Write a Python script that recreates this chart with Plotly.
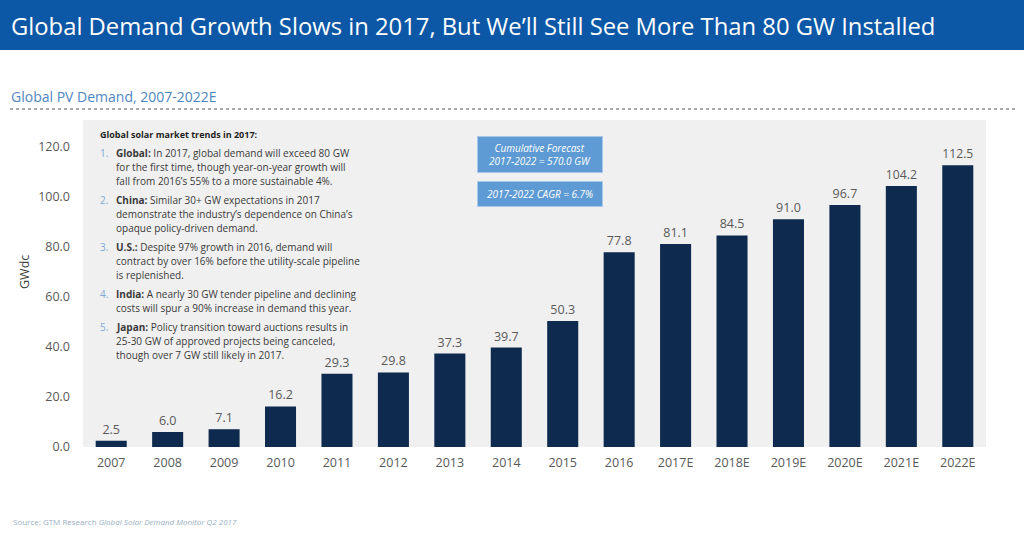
import plotly.graph_objects as go

years = ["2007", "2008", "2009", "2010", "2011", "2012", "2013", "2014", "2015",
         "2016", "2017E", "2018E", "2019E", "2020E", "2021E", "2022E"]
demand_gw = [2.5, 6.0, 7.1, 16.2, 29.3, 29.8, 37.3, 39.7, 50.3,
             77.8, 81.1, 84.5, 91.0, 96.7, 104.2, 112.5]
y_ticks = [0, 20, 40, 60, 80, 100, 120]

title = "Global Demand Growth Slows in 2017, But We\u2019ll Still See More Than 80 GW Installed"
subtitle = "Global PV Demand, 2007-2022E"
box_heading = "Global solar market trends in 2017:"
trend_keys = ["Global:", "China:", "U.S.:", "India:", "Japan:"]
trend_lines = [
    [" In 2017, global demand will exceed 80 GW",
     "for the first time, though year-on-year growth will",
     "fall from 2016\u2019s 55% to a more sustainable 4%."],
    [" Similar 30+ GW expectations in 2017",
     "demonstrate the industry\u2019s dependence on China\u2019s",
     "opaque policy-driven demand."],
    [" Despite 97% growth in 2016, demand will",
     "contract by over 16% before the utility-scale pipeline",
     "is replenished."],
    [" A nearly 30 GW tender pipeline and declining",
     "costs will spur a 90% increase in demand this year."],
    [" Policy transition toward auctions results in",
     "25-30 GW of approved projects being canceled,",
     "though over 7 GW still likely in 2017."],
]
forecast_text = "<i>Cumulative Forecast<br>2017-2022 = 570.0 GW</i>"
cagr_text = "<i>2017-2022 CAGR = 6.7%</i>"
source_text = "Source: GTM Research <i>Global Solar Demand Monitor Q2 2017</i>"

W, H = 1024, 535
L, R, T, B = 83, 986, 120, 447
FONT = "Open Sans"


def px(x):
    return (x - L) / (R - L)


def py(y):
    return (B - y) / (B - T)


fig = go.Figure()
fig.add_trace(go.Bar(
    x=years, y=demand_gw,
    marker=dict(color="#0E2A4F", line=dict(width=0)),
    width=0.55,
    text=[f"{v:.1f}" for v in demand_gw],
    textposition="outside",
    textfont=dict(family=FONT, size=12.5, color="#595959"),
    cliponaxis=False,
    hoverinfo="x+y",
))

shapes = [
    dict(type="rect", xref="paper", yref="paper", x0=px(0), x1=px(W), y0=py(50), y1=py(0),
         fillcolor="#0C57A6", line=dict(width=0), layer="above"),
    dict(type="line", xref="paper", yref="paper", x0=px(10), x1=px(1015), y0=py(109), y1=py(109),
         line=dict(color="#555555", width=1, dash="dot")),
]

annotations = [
    dict(text=title, x=px(9), y=py(26), xref="paper", yref="paper", xanchor="left", yanchor="middle",
         showarrow=False, font=dict(family=FONT, size=23.8, color="white")),
    dict(text=subtitle, x=px(9), y=py(97), xref="paper", yref="paper", xanchor="left", yanchor="middle",
         showarrow=False, font=dict(family=FONT, size=14, color="#4F86C0")),
    dict(text=source_text, x=px(11), y=py(521), xref="paper", yref="paper", xanchor="left", yanchor="middle",
         showarrow=False, font=dict(family=FONT, size=8, color="#9AAFC2")),
    dict(text="GWdc", x=px(24), y=py(272), xref="paper", yref="paper", xanchor="center", yanchor="middle",
         textangle=-90, showarrow=False, font=dict(family=FONT, size=12.5, color="#404040")),
    dict(text="<b>" + box_heading + "</b>", x=px(98), y=py(134), xref="paper", yref="paper",
         xanchor="left", yanchor="middle", showarrow=False,
         font=dict(family=FONT, size=9, color="#1F1F1F")),
]

item_line_y = [[153, 167, 181], [200, 214, 228], [247, 261, 275], [294, 308], [327, 341, 355]]
for i, (k, lines) in enumerate(zip(trend_keys, trend_lines)):
    ys = item_line_y[i]
    annotations.append(dict(text=f"{i+1}.", x=px(98), y=py(ys[0]), xref="paper", yref="paper",
                            xanchor="left", yanchor="middle", showarrow=False,
                            font=dict(family=FONT, size=10, color="#7FA9D6")))
    for j, (line, yv) in enumerate(zip(lines, ys)):
        txt = f"<b>{k}</b>{line}" if j == 0 else line
        annotations.append(dict(text=txt, x=px(114), y=py(yv), xref="paper", yref="paper",
                                xanchor="left", yanchor="middle", align="left", showarrow=False,
                                font=dict(family=FONT, size=10, color="#3A3A3A")))

annotations.append(dict(text=forecast_text, x=px(540), y=py(154), xref="paper", yref="paper",
                        xanchor="center", yanchor="middle", showarrow=False,
                        width=122, height=33, bgcolor="#5E9BD4", bordercolor="#A9C8E8", borderwidth=1,
                        font=dict(family=FONT, size=10, color="white")))
annotations.append(dict(text=cagr_text, x=px(540), y=py(194), xref="paper", yref="paper",
                        xanchor="center", yanchor="middle", showarrow=False,
                        width=122, height=22, bgcolor="#5E9BD4", bordercolor="#A9C8E8", borderwidth=1,
                        font=dict(family=FONT, size=10, color="white")))

fig.update_layout(
    width=W, height=H,
    margin=dict(l=L, r=W - R, t=T, b=H - B, pad=0),
    paper_bgcolor="white",
    plot_bgcolor="#F0F0F0",
    showlegend=False,
    bargap=0.45,
    shapes=shapes,
    annotations=annotations,
    xaxis=dict(type="category", showgrid=False, zeroline=False, showline=False, ticks="",
               tickfont=dict(family=FONT, size=12.5, color="#595959"), ticklabelstandoff=6),
    yaxis=dict(range=[0, 130.6], tickvals=y_ticks, ticktext=[f"{v:.1f}" for v in y_ticks],
               showgrid=False, zeroline=False, showline=False, ticks="",
               tickfont=dict(family=FONT, size=12.5, color="#595959"), ticklabelstandoff=12),
)

fig.write_html("out.html", config={"displayModeBar": False},
               post_script="document.body.style.margin='0';document.body.style.padding='0';")
